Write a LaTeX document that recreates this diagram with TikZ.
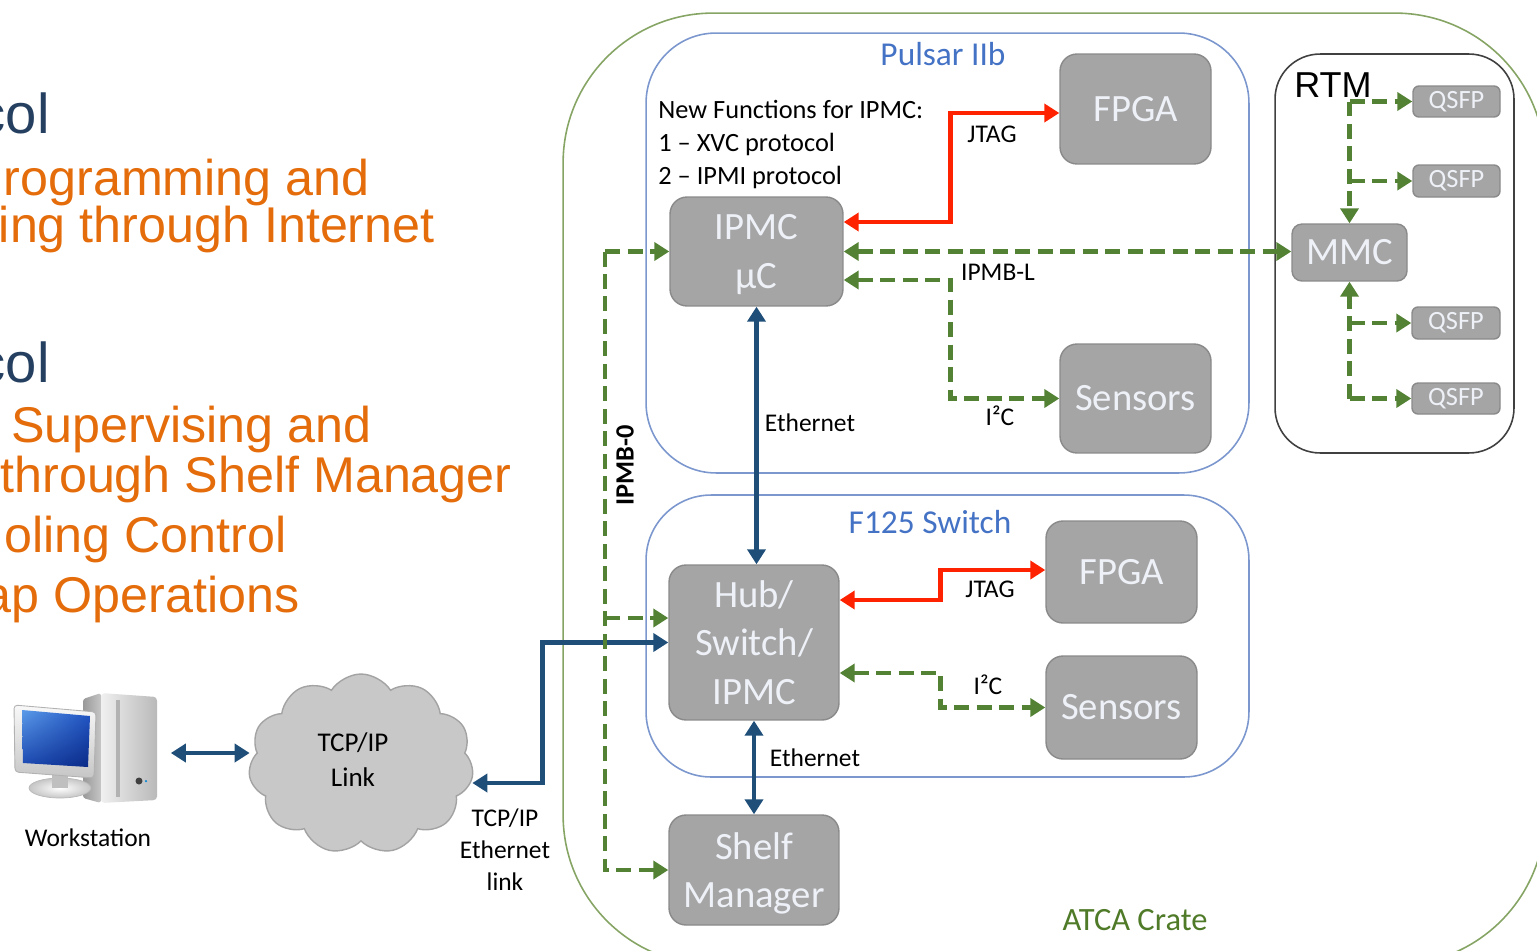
\documentclass[tikz,border=0pt]{standalone}
\usepackage{fontspec}
\setmainfont{Carlito}
\newfontfamily\arialf{Liberation Sans}
\usetikzlibrary{arrows.meta,shapes.symbols,calc,shadings}

\definecolor{boxfill}{HTML}{A5A5A5}
\definecolor{boxline}{HTML}{8A8A8A}
\definecolor{boxtext}{HTML}{EEF1F7}
\definecolor{ethblue}{HTML}{1F4E79}
\definecolor{jtagred}{HTML}{FF2200}
\definecolor{busgreen}{HTML}{548235}
\definecolor{cardblue}{HTML}{7B97CE}
\definecolor{titleblue}{HTML}{4472C4}
\definecolor{crategreen}{HTML}{86A564}
\definecolor{cratetext}{HTML}{4F7A28}
\definecolor{slideorange}{HTML}{E46C0A}
\definecolor{slidenavy}{HTML}{243F60}
\definecolor{cloudfill}{HTML}{C8C8C8}
\definecolor{cloudline}{HTML}{A3A3A3}
\definecolor{screenA}{HTML}{5B9BE8}
\definecolor{screenB}{HTML}{2256C6}
\definecolor{screenC}{HTML}{1A46B0}
\definecolor{screenD}{HTML}{0A2A86}

\begin{document}
\begin{tikzpicture}[x=0.02cm, y=-0.02cm,
  >={Triangle[length=0.3cm,width=0.36cm]},
  block/.style={draw=boxline, line width=0.8pt, fill=boxfill, rounded corners=0.34cm,
    text=boxtext, align=center, inner sep=0pt, font=\fontsize{22}{27.5}\selectfont},
  qsfp/.style={block, rounded corners=0.12cm, font=\fontsize{15}{18}\selectfont},
  card/.style={draw=cardblue, line width=0.9pt, inner sep=0pt},
  cardtitle/.style={text=titleblue, inner sep=0pt, font=\fontsize{19}{23}\selectfont},
  lbl/.style={inner sep=0pt, text=black, font=\fontsize{14.5}{18}\selectfont},
  ethline/.style={draw=ethblue, line width=2.6pt, <->},
  jtagline/.style={draw=jtagred, line width=2.8pt, <->},
  busline/.style={draw=busgreen, line width=2.8pt, dash pattern=on 0.3cm off 0.15cm},
  slidetxt/.style={inner sep=0pt, anchor=base east, text=slideorange, font=\arialf\fontsize{28.6}{34}\selectfont},
  slidehead/.style={inner sep=0pt, anchor=base east, text=slidenavy, font=\arialf\fontsize{32}{38}\selectfont}
]
\useasboundingbox (0,0) rectangle (1537,950);
\clip (0,0) rectangle (1537,950);

% ---------- slide text on the left ----------
\node[slidehead] (h1) at (50,133) {col};
\node[slidetxt] (t1) at (370,195) {rogramming and};
\node[slidetxt] (t2) at (435,242) {ing through Internet};
\node[slidehead] (h2) at (50,382) {col};
\node[slidetxt] (t3) at (372,442) {Supervising and};
\node[slidetxt] (t4) at (512,492) {through Shelf Manager};
\node[slidetxt] (t5) at (287,552) {oling Control};
\node[slidetxt] (t6) at (300,612) {ap Operations};

% ---------- containers ----------
\node[draw=crategreen, line width=0.9pt, rounded corners=3cm, minimum width=19.64cm,
      minimum height=19.04cm, inner sep=0pt] (crate) at (1054,489) {};
\node[card, rounded corners=1.4cm, minimum width=12.06cm, minimum height=8.8cm] (pulsar) at (947.5,253) {};
\node[card, rounded corners=1.3cm, minimum width=12.06cm, minimum height=5.64cm] (f125) at (947.5,636) {};
\node[draw=black!75, line width=0.9pt, rounded corners=0.9cm, minimum width=4.78cm,
      minimum height=7.98cm, inner sep=0pt] (rtm) at (1394.5,253.5) {};

\node[cardtitle, anchor=base] (pulsarT) at (943,65) {Pulsar IIb};
\node[cardtitle, anchor=base] (f125T) at (930,533) {F125 Switch};
\node[inner sep=0pt, anchor=base, text=cratetext, font=\fontsize{18.5}{22}\selectfont] (crateT) at (1135,930) {ATCA Crate};
\node[inner sep=0pt, anchor=base west, font=\arialf\fontsize{20.5}{24}\selectfont] (rtmT) at (1294,97) {RTM};

% ---------- blocks ----------
\node[block, minimum width=3.02cm, minimum height=2.2cm] (fpgaA) at (1135.5,109) {FPGA};
\node[block, text depth=0pt, minimum width=3.46cm, minimum height=2.18cm] (ipmc) at (756.5,251.5) {IPMC\\µC};
\node[block, minimum width=3.02cm, minimum height=2.18cm] (sensA) at (1135.5,398.5) {Sensors};
\node[block, minimum width=3.4cm, minimum height=3.1cm] (hub) at (754,642.5) {Hub/\\Switch/\\IPMC};
\node[block, minimum width=3.02cm, minimum height=2.04cm] (fpgaB) at (1121.5,572) {FPGA};
\node[block, minimum width=3.02cm, minimum height=2.06cm] (sensB) at (1121.5,707.5) {Sensors};
\node[block, text depth=0pt, minimum width=3.4cm, minimum height=2.2cm] (shelf) at (754,870) {Shelf\\Manager};
\node[block, rounded corners=0.2cm, minimum width=2.3cm, minimum height=1.14cm] (mmc) at (1349.5,252.5) {MMC};
\node[qsfp, minimum width=1.74cm, minimum height=0.62cm] (q1) at (1456.5,101.5) {QSFP};
\node[qsfp, minimum width=1.74cm, minimum height=0.64cm] (q2) at (1456.5,181) {QSFP};
\node[qsfp, minimum width=1.76cm, minimum height=0.64cm] (q3) at (1456,323) {QSFP};
\node[qsfp, minimum width=1.76cm, minimum height=0.62cm] (q4) at (1456,398.5) {QSFP};

% ---------- IPMC note ----------
\node[lbl, anchor=base west, font=\fontsize{15}{18}\selectfont] (fn1) at (658,118) {New Functions for IPMC:};
\node[lbl, anchor=base west, font=\fontsize{15}{18}\selectfont] (fn2) at (658,151) {1 – XVC protocol};
\node[lbl, anchor=base west, font=\fontsize{15}{18}\selectfont] (fn3) at (658,184) {2 – IPMI protocol};

% ---------- workstation and cloud ----------
\node[inner sep=0pt, minimum width=2.94cm, minimum height=2.18cm] (ws) at (86,747) {};
% tower
\shade[left color=gray!80, right color=gray!45, rounded corners=1.5pt]
  (83,699) -- (101,693) -- (101,803) -- (83,798) -- cycle;
\shade[left color=gray!12, right color=gray!55, rounded corners=2pt]
  (101,693) -- (157,697) -- (157,800) -- (101,803) -- cycle;
\fill[gray!60] (116,700) rectangle (120,797);
\fill[black!75] (139,781) circle (0.07cm);
\fill[cyan!70!blue] (146,781) circle (0.025cm);
% stand
\shade[inner color=white, outer color=gray!45, draw=gray!55, line width=0.4pt] (60,788) ellipse (0.62cm and 0.2cm);
\fill[gray!50] (52,774) rectangle (68,788);
% monitor
\shade[top color=gray!5, bottom color=gray!45, draw=gray!60, line width=0.5pt, rounded corners=2pt]
  (14,705) -- (96,712) -- (94,778) -- (15,772) -- cycle;
\shade[upper left=screenA, upper right=screenB, lower left=screenC, lower right=screenD]
  (22,710) -- (90,716) -- (88,767) -- (23,763) -- cycle;
\node[lbl, anchor=base] (wsT) at (88,846) {Workstation};

\node[cloud, cloud puffs=11, cloud puff arc=115, aspect=1.25, draw=cloudline, fill=cloudfill,
      line width=0.8pt, minimum width=4.5cm, minimum height=3.6cm, inner sep=0pt] (cloud) at (361,764) {};
\node[lbl, align=center, anchor=base, font=\fontsize{15.4}{19.8}\selectfont] (cloudT) at (353,786) {TCP/IP\\Link};
\node[lbl, align=center, anchor=base, font=\fontsize{14.5}{18.1}\selectfont] (ethT) at (505,890) {TCP/IP\\Ethernet\\link};

% ---------- Ethernet (dark blue) ----------
\draw[ethline] ([yshift=-0.12cm]ws.east) ++(0.22cm,0) coordinate (wsout) -- (wsout -| cloud.west);
\draw[ethline] ([yshift=-0.38cm]cloud.east) -- ++(70,0) |- (hub.west);
\draw[ethline] (ipmc.south) -- (ipmc.south |- hub.north);
\draw[ethline] (hub.south) -- (shelf.north);
\node[lbl, anchor=base] (eth1) at (810,431) {Ethernet};
\node[lbl, anchor=base] (eth2) at (815,766) {Ethernet};

% ---------- JTAG (red) ----------
\draw[jtagline] ([yshift=0.59cm]ipmc.east) -- ++(107,0) |- ([yshift=-0.08cm]fpgaA.west);
\draw[jtagline] ([yshift=0.85cm]hub.east) -- ++(101,0) |- ([yshift=0.04cm]fpgaB.west);
\node[lbl, anchor=base] (jt1) at (992,142) {JTAG};
\node[lbl, anchor=base] (jt2) at (990,597) {JTAG};

% ---------- IPMB / I2C (green dashed) ----------
\draw[busline, <->] (ipmc.east) -- (ipmc.east -| mmc.west);
\draw[busline, <->] ([yshift=-0.57cm]ipmc.east) -- ++(107,0) |- (sensA.west);
\draw[busline, <->] ([yshift=-0.61cm]hub.east) -- ++(101,0) |- (sensB.west);
\node[lbl, anchor=base] (ipmbl) at (998,280) {IPMB-L};
\node[lbl, anchor=base] (i2c1) at (1000,425) {I²C};
\node[lbl, anchor=base] (i2c2) at (988,694) {I²C};

\path (605,0) coordinate (ipmbx);
\coordinate (hubin) at ([yshift=0.49cm]hub.west);
\draw[busline, ->] (ipmc.west -| ipmbx) -- (ipmc.west);
\draw[busline, ->] (ipmc.west -| ipmbx) -- (shelf.west -| ipmbx) -- (shelf.west);
\draw[busline, ->] (hubin -| ipmbx) -- (hubin);
\node[lbl, rotate=90, font=\bfseries\fontsize{15}{18}\selectfont] (ipmb0) at (625,465) {IPMB-0};

% RTM management buses
\draw[busline, ->] (q1.west -| mmc.north) -- (mmc.north);
\draw[busline, ->] (q1.west -| mmc.north) -- (q1.west);
\draw[busline, ->] (q2.west -| mmc.north) -- (q2.west);
\draw[busline, ->] (q4.west -| mmc.south) -- (mmc.south);
\draw[busline, ->] (q3.west -| mmc.south) -- (q3.west);
\draw[busline, ->] (q4.west -| mmc.south) -- (q4.west);
\end{tikzpicture}
\end{document}
